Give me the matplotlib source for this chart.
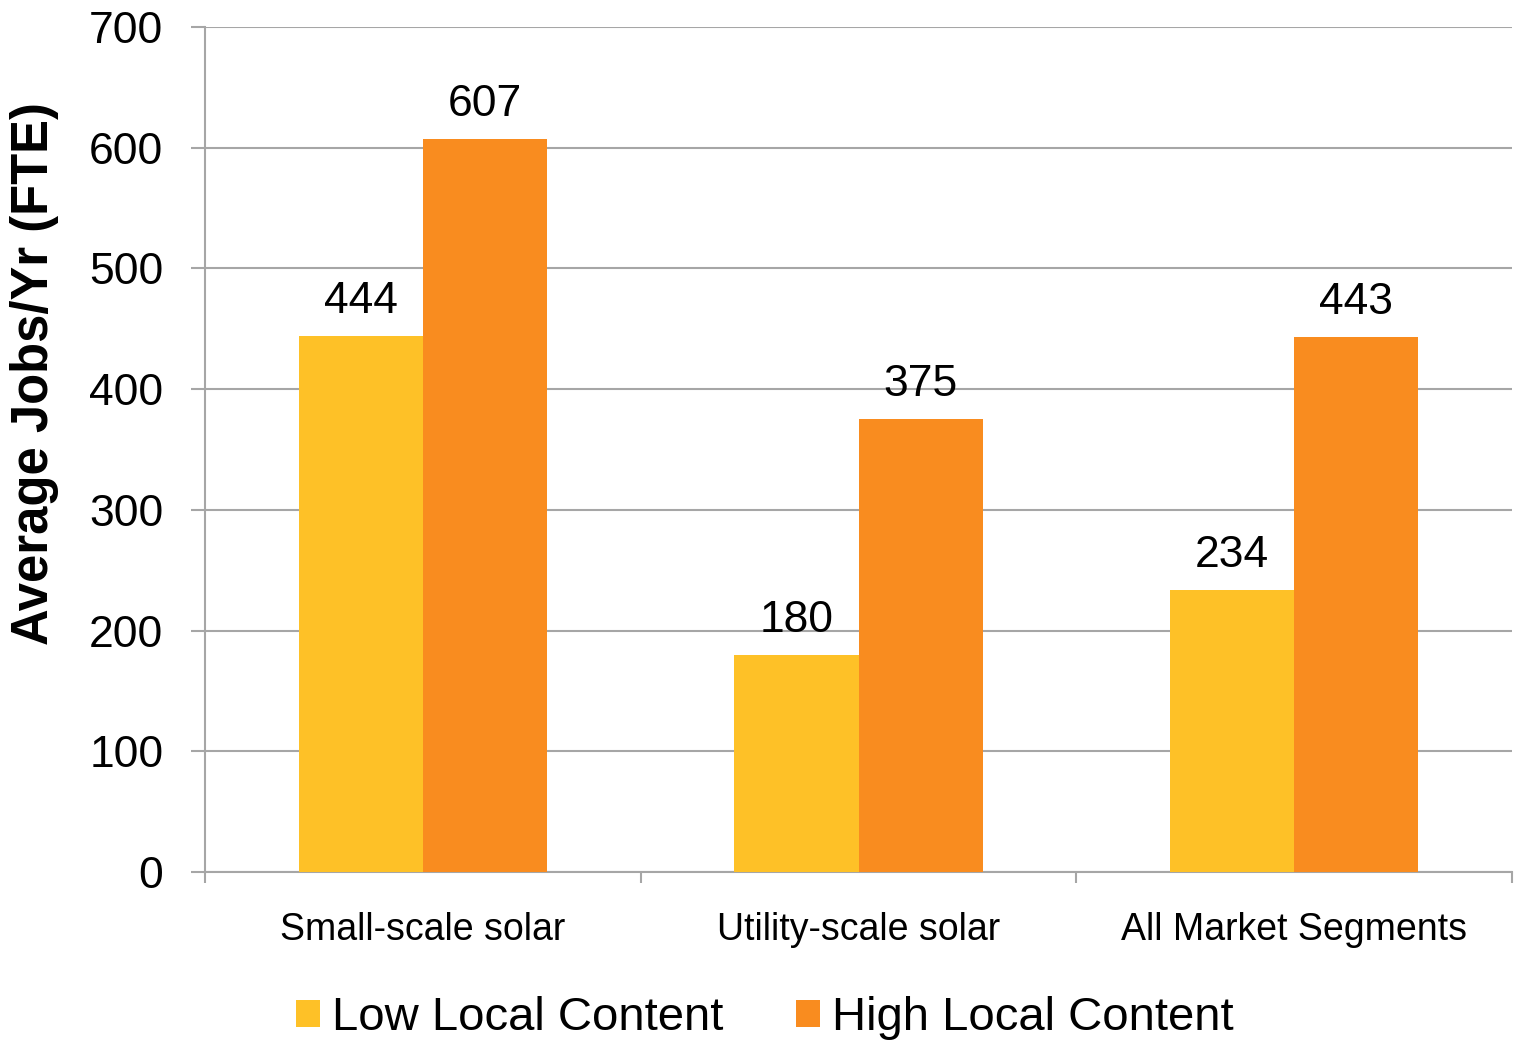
import matplotlib.pyplot as plt
import numpy as np

categories = ["Small-scale solar", "Utility-scale solar", "All Market Segments"]
low_local = [444, 180, 234]
high_local = [607, 375, 443]
series_names = ["Low Local Content", "High Local Content"]
colors = ["#FEC127", "#F98C1F"]

plt.rcParams["font.family"] = ["Liberation Sans", "DejaVu Sans"]

fig = plt.figure(figsize=(15.19, 10.41), dpi=100)
ax = fig.add_axes([205 / 1519, 1 - 872 / 1041, (1512 - 205) / 1519, (872 - 27) / 1041])

x = np.arange(len(categories))
w = 0.285

b1 = ax.bar(x - w / 2, low_local, w, color=colors[0], label=series_names[0], zorder=3)
b2 = ax.bar(x + w / 2, high_local, w, color=colors[1], label=series_names[1], zorder=3)

for bars, vals in [(b1, low_local), (b2, high_local)]:
    for rect, v in zip(bars, vals):
        ax.annotate(str(v),
                    (rect.get_x() + rect.get_width() / 2, rect.get_height()),
                    xytext=(0, 10), textcoords="offset points",
                    ha="center", va="bottom", fontsize=32)

ax.set_xlim(-0.5, 2.5)
ax.set_ylim(0, 700)
ax.set_yticks(range(0, 701, 100))
ax.yaxis.grid(True, color="#A6A6A6", linewidth=1.5, zorder=0)
ax.set_axisbelow(True)

ax.set_xticks(x)
ax.set_xticklabels(categories, fontsize=27)
ax.set_xticks([-0.5, 0.5, 1.5, 2.5], minor=True)
ax.tick_params(axis="x", which="major", length=0, pad=29)
ax.tick_params(axis="x", which="minor", length=8, width=1.5, color="#A6A6A6")
ax.tick_params(axis="y", length=10, width=1.5, color="#A6A6A6", labelsize=32, pad=20)

for s in ["top", "right"]:
    ax.spines[s].set_visible(False)
for s in ["left", "bottom"]:
    ax.spines[s].set_color("#A6A6A6")
    ax.spines[s].set_linewidth(1.5)

fig.text(35 / 1519, 1 - 374 / 1041, "Average Jobs/Yr (FTE)", rotation=90,
         fontsize=36.5, fontweight="bold", ha="center", va="center")

fig.legend(loc="center", bbox_to_anchor=(765 / 1519, 1 - 1018 / 1041), ncol=2,
           frameon=False, fontsize=34, handlelength=0.5, handleheight=0.5,
           handletextpad=0.25, columnspacing=1.55, borderaxespad=0, borderpad=0)

fig.savefig("out.png", dpi=100)
